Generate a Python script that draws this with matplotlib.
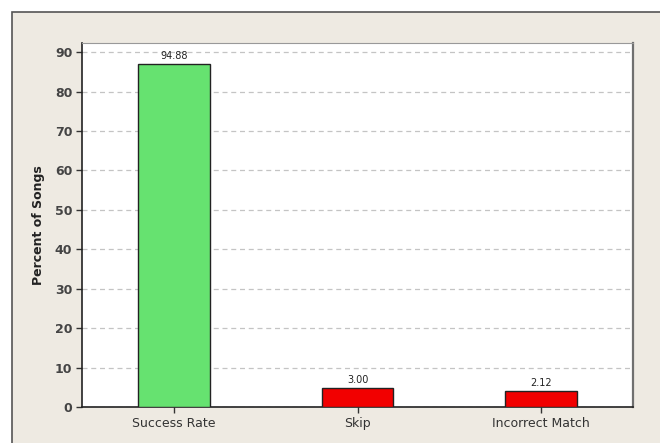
import matplotlib
matplotlib.use('Agg')
import matplotlib.pyplot as plt
from matplotlib.patches import Rectangle

categories = ['Success Rate', 'Skip', 'Incorrect Match']
bar_heights = [87.1, 4.9, 4.1]
bar_labels = ['94.88', '3.00', '2.12']
bar_colors = ['#66E270', '#F20000', '#F20000']

W, H = 660, 443
fig = plt.figure(figsize=(W / 100, H / 100), dpi=100, facecolor='white')

# beige panel behind the chart, running off the right/bottom edges
fig.patches.append(Rectangle((12 / W, -0.05), 1.1, (H - 12) / H + 0.05,
                             transform=fig.transFigure, facecolor='#EEEAE2',
                             edgecolor='#555555', linewidth=1.2, zorder=-10))

ax = fig.add_axes([82 / W, (H - 407) / H, (633 - 82) / W, (407 - 43) / H])
ax.set_zorder(5)
ax.set_facecolor('white')

x = range(len(categories))
ax.bar(x, bar_heights, width=0.39, color=bar_colors, edgecolor='#222222',
       linewidth=1.0, zorder=3)
for xi, h, lab in zip(x, bar_heights, bar_labels):
    ax.annotate(lab, (xi, h), xytext=(0, 2), textcoords='offset points',
                ha='center', va='bottom', fontsize=7, color='#222222', zorder=4)

ax.set_xlim(-0.5, 2.5)
ax.set_ylim(0, 92.3)
ax.set_yticks(range(0, 91, 10))
ax.set_xticks(list(x))
ax.set_xticklabels(categories, fontsize=9, color='#333333')
for t in ax.get_yticklabels():
    t.set_fontsize(9)
    t.set_fontweight('bold')
    t.set_color('#444444')
ax.tick_params(axis='both', direction='out', length=4, width=1, color='#333333', pad=3)
ax.yaxis.grid(True, linestyle=(0, (4, 3)), color='#C4C4C4', linewidth=0.9, zorder=1)
ax.set_axisbelow(True)

ax.set_ylabel('Percent of Songs', fontsize=9, fontweight='bold', color='#222222', labelpad=7)

ax.spines['left'].set_color('#222222')
ax.spines['bottom'].set_color('#222222')
ax.spines['right'].set_color('#707070')
ax.spines['top'].set_color('#999999')
ax.spines['right'].set_linewidth(1.6)
for s in ['left', 'bottom']:
    ax.spines[s].set_linewidth(1.2)

fig.savefig('out.png', dpi=100, facecolor='white')
